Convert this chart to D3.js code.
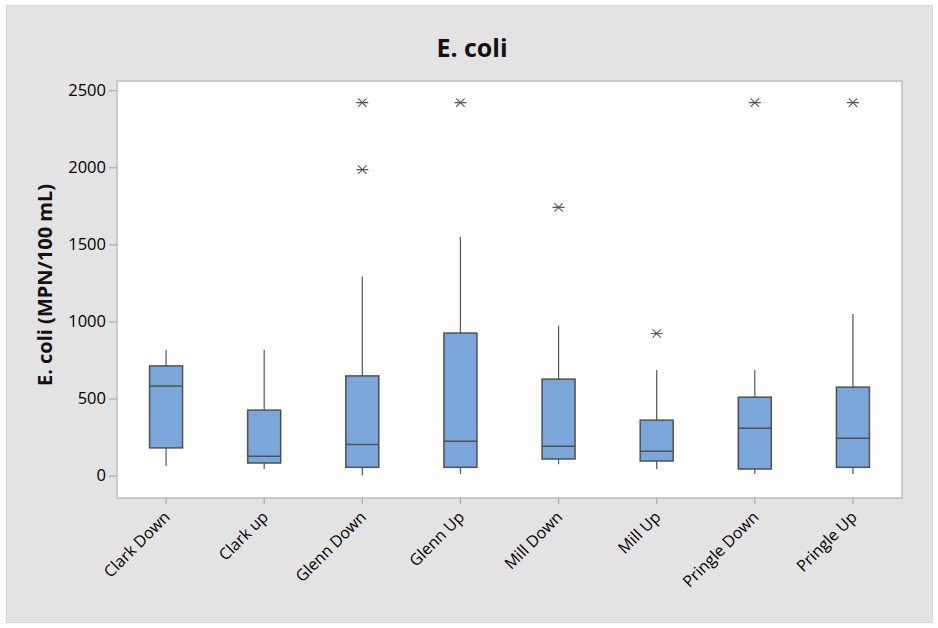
<!DOCTYPE html>
<html>
<head>
<meta charset="utf-8">
<script src="https://cdn.jsdelivr.net/npm/d3@7"></script>
<style>
  html, body { margin: 0; padding: 0; background: #ffffff; }
  svg { display: block; }
</style>
</head>
<body>
<svg id="chart" width="938" height="628"></svg>
<script>
// ---- Data ----
const categories = ["Clark Down", "Clark up", "Glenn Down", "Glenn Up", "Mill Down", "Mill Up", "Pringle Down", "Pringle Up"];
const whiskerLow  = [63, 43, 3, 11, 74, 43, 11, 11];
const q1          = [180, 82, 54, 54, 108, 95, 43, 54];
const median      = [582, 126, 202, 223, 191, 158, 307, 243];
const q3          = [712, 425, 647, 925, 626, 360, 509, 574];
const whiskerHigh = [816, 816, 1292, 1548, 974, 686, 686, 1048];
const outliers    = [[], [], [2420, 1985], [2420], [1740], [922], [2420], [2420]];
const yTicks      = [0, 500, 1000, 1500, 2000, 2500];
const titleText   = "E. coli";
const yLabelText  = "E. coli (MPN/100 mL)";

// ---- Layout ----
const plot = { left: 117, top: 81, right: 902, bottom: 498 };
const svg = d3.select("#chart");

// outer panel
svg.append("rect").attr("x", 6.5).attr("y", 5.5).attr("width", 926).attr("height", 617)
  .attr("fill", "#e3e3e3").attr("stroke", "#d6d6d6").attr("stroke-width", 1);

// plot area
svg.append("rect").attr("x", plot.left).attr("y", plot.top)
  .attr("width", plot.right - plot.left).attr("height", plot.bottom - plot.top)
  .attr("fill", "#ffffff").attr("stroke", "#bdbdbd").attr("stroke-width", 1.5);

const x = d3.scaleBand().domain(categories).range([plot.left, plot.right]).paddingInner(0).paddingOuter(0);
const y = d3.scaleLinear().domain([-145, 2560]).range([plot.bottom, plot.top]);

const fontFam = "'Open Sans', 'Noto Sans', sans-serif";

// y axis
const yAxis = svg.append("g").attr("transform", `translate(${plot.left},0)`)
  .call(d3.axisLeft(y).tickValues(yTicks).tickSize(8).tickPadding(3).tickFormat(d3.format("d")));
yAxis.select(".domain").remove();
yAxis.selectAll(".tick line").attr("stroke", "#a0a0a0");
yAxis.selectAll(".tick text").attr("font-family", fontFam).attr("font-size", "16.5px")
  .attr("font-weight", 500).attr("fill", "#000");

// x axis
const xAxis = svg.append("g").attr("transform", `translate(0,${plot.bottom})`)
  .call(d3.axisBottom(x).tickSize(6).tickPadding(6));
xAxis.select(".domain").remove();
xAxis.selectAll(".tick line").attr("stroke", "#a0a0a0");
xAxis.selectAll(".tick text")
  .attr("font-family", fontFam).attr("font-size", "16px").attr("font-weight", 500).attr("fill", "#000")
  .attr("text-anchor", "end").attr("x", 0).attr("y", 0).attr("dy", "0.35em")
  .attr("transform", "translate(1,16) rotate(-45)");

// boxes
const boxW = 33;
const data = categories.map((c, i) => ({
  c, lo: whiskerLow[i], q1: q1[i], med: median[i], q3: q3[i], hi: whiskerHigh[i], out: outliers[i]
}));
const g = svg.append("g");
const groups = g.selectAll("g.box").data(data).join("g").attr("class", "box")
  .attr("transform", d => `translate(${x(d.c) + x.bandwidth() / 2},0)`);

groups.append("line").attr("x1", 0).attr("x2", 0)
  .attr("y1", d => y(d.q3)).attr("y2", d => y(d.hi))
  .attr("stroke", "#555").attr("stroke-width", 1.2);
groups.append("line").attr("x1", 0).attr("x2", 0)
  .attr("y1", d => y(d.q1)).attr("y2", d => y(d.lo))
  .attr("stroke", "#555").attr("stroke-width", 1.2);
groups.append("rect")
  .attr("x", -boxW / 2).attr("width", boxW)
  .attr("y", d => y(d.q3)).attr("height", d => y(d.q1) - y(d.q3))
  .attr("fill", "#7ba6d9").attr("stroke", "#505050").attr("stroke-width", 1.5);
groups.append("line").attr("x1", -boxW / 2).attr("x2", boxW / 2)
  .attr("y1", d => y(d.med)).attr("y2", d => y(d.med))
  .attr("stroke", "#505050").attr("stroke-width", 1.5);

// outliers: asterisk symbols
const star = "M-6,0L6,0M-4.2,-4.2L4.2,4.2M-4.2,4.2L4.2,-4.2";
groups.each(function (d) {
  d3.select(this).selectAll("path.out").data(d.out).join("path").attr("class", "out")
    .attr("d", star)
    .attr("transform", v => `translate(0,${y(v)})`)
    .attr("fill", "none").attr("stroke", "#555").attr("stroke-width", 1.1);
});

// title
svg.append("text").attr("x", 472).attr("y", 57).attr("text-anchor", "middle")
  .attr("font-family", fontFam).attr("font-weight", 700).attr("font-size", "25px").attr("fill", "#111")
  .text(titleText);

// y label
svg.append("text").attr("transform", `translate(52,${285}) rotate(-90)`)
  .attr("text-anchor", "middle")
  .attr("font-family", fontFam).attr("font-weight", 700).attr("font-size", "20px").attr("fill", "#111")
  .text(yLabelText);
</script>
</body>
</html>
